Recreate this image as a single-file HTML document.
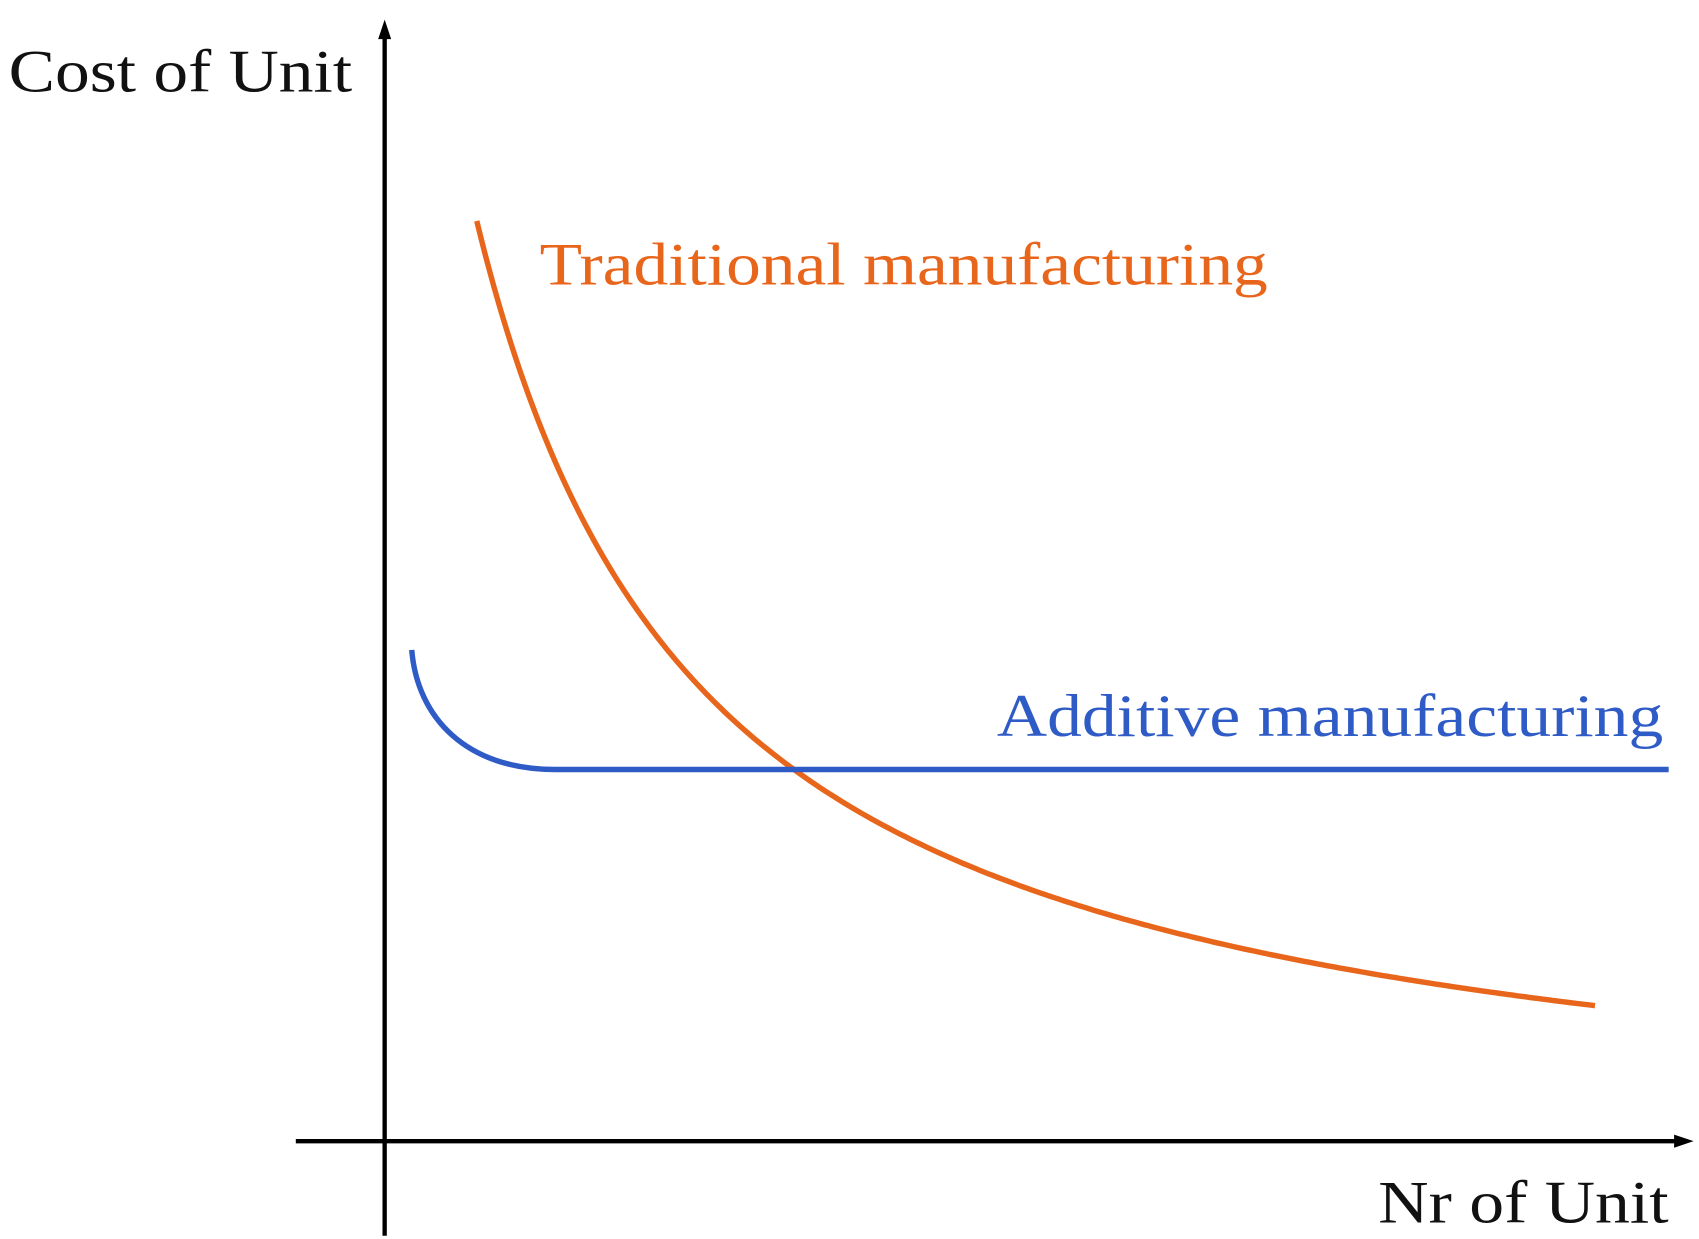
<!DOCTYPE html>
<html><head><meta charset="utf-8"><style>html,body{margin:0;padding:0;background:#fff}svg{display:block}</style></head>
<body>
<svg width="1699" height="1239" viewBox="0 0 1568 1140" preserveAspectRatio="none" xmlns="http://www.w3.org/2000/svg">
<rect width="1568" height="1140" fill="#fff"/>
<g font-family="Liberation Serif, serif" font-size="56">
<text x="8" y="84" fill="#111" textLength="317" lengthAdjust="spacingAndGlyphs">Cost of Unit</text>
<text x="498" y="262" fill="#E8661C" textLength="672" lengthAdjust="spacingAndGlyphs">Traditional manufacturing</text>
<text x="920" y="677" fill="#2E5BC6" textLength="615" lengthAdjust="spacingAndGlyphs">Additive manufacturing</text>
<text x="1272" y="1125" fill="#111" textLength="268" lengthAdjust="spacingAndGlyphs">Nr of Unit</text>
</g>
<line x1="355" y1="28" x2="355" y2="1137" stroke="#000" stroke-width="4"/>
<polygon points="355,18 349,36 361,36" fill="#000"/>
<line x1="273" y1="1050" x2="1552" y2="1050" stroke="#000" stroke-width="4"/>
<polygon points="1563,1050 1545,1044 1545,1056" fill="#000"/>
<path id="trad" d="" fill="none" stroke="#E8661C" stroke-width="5"/>
<path d="M380,598 C385,660 430,708 512,708 L1540,708" fill="none" stroke="#2E5BC6" stroke-width="5"/>
</svg>
<script>
var d="";for(var x=440;x<=1472;x+=4){var y=1073.6-184500/(x-228);d+=(x==440?"M":"L")+x+","+y.toFixed(1);}
document.getElementById("trad").setAttribute("d",d);
</script>
</body></html>
